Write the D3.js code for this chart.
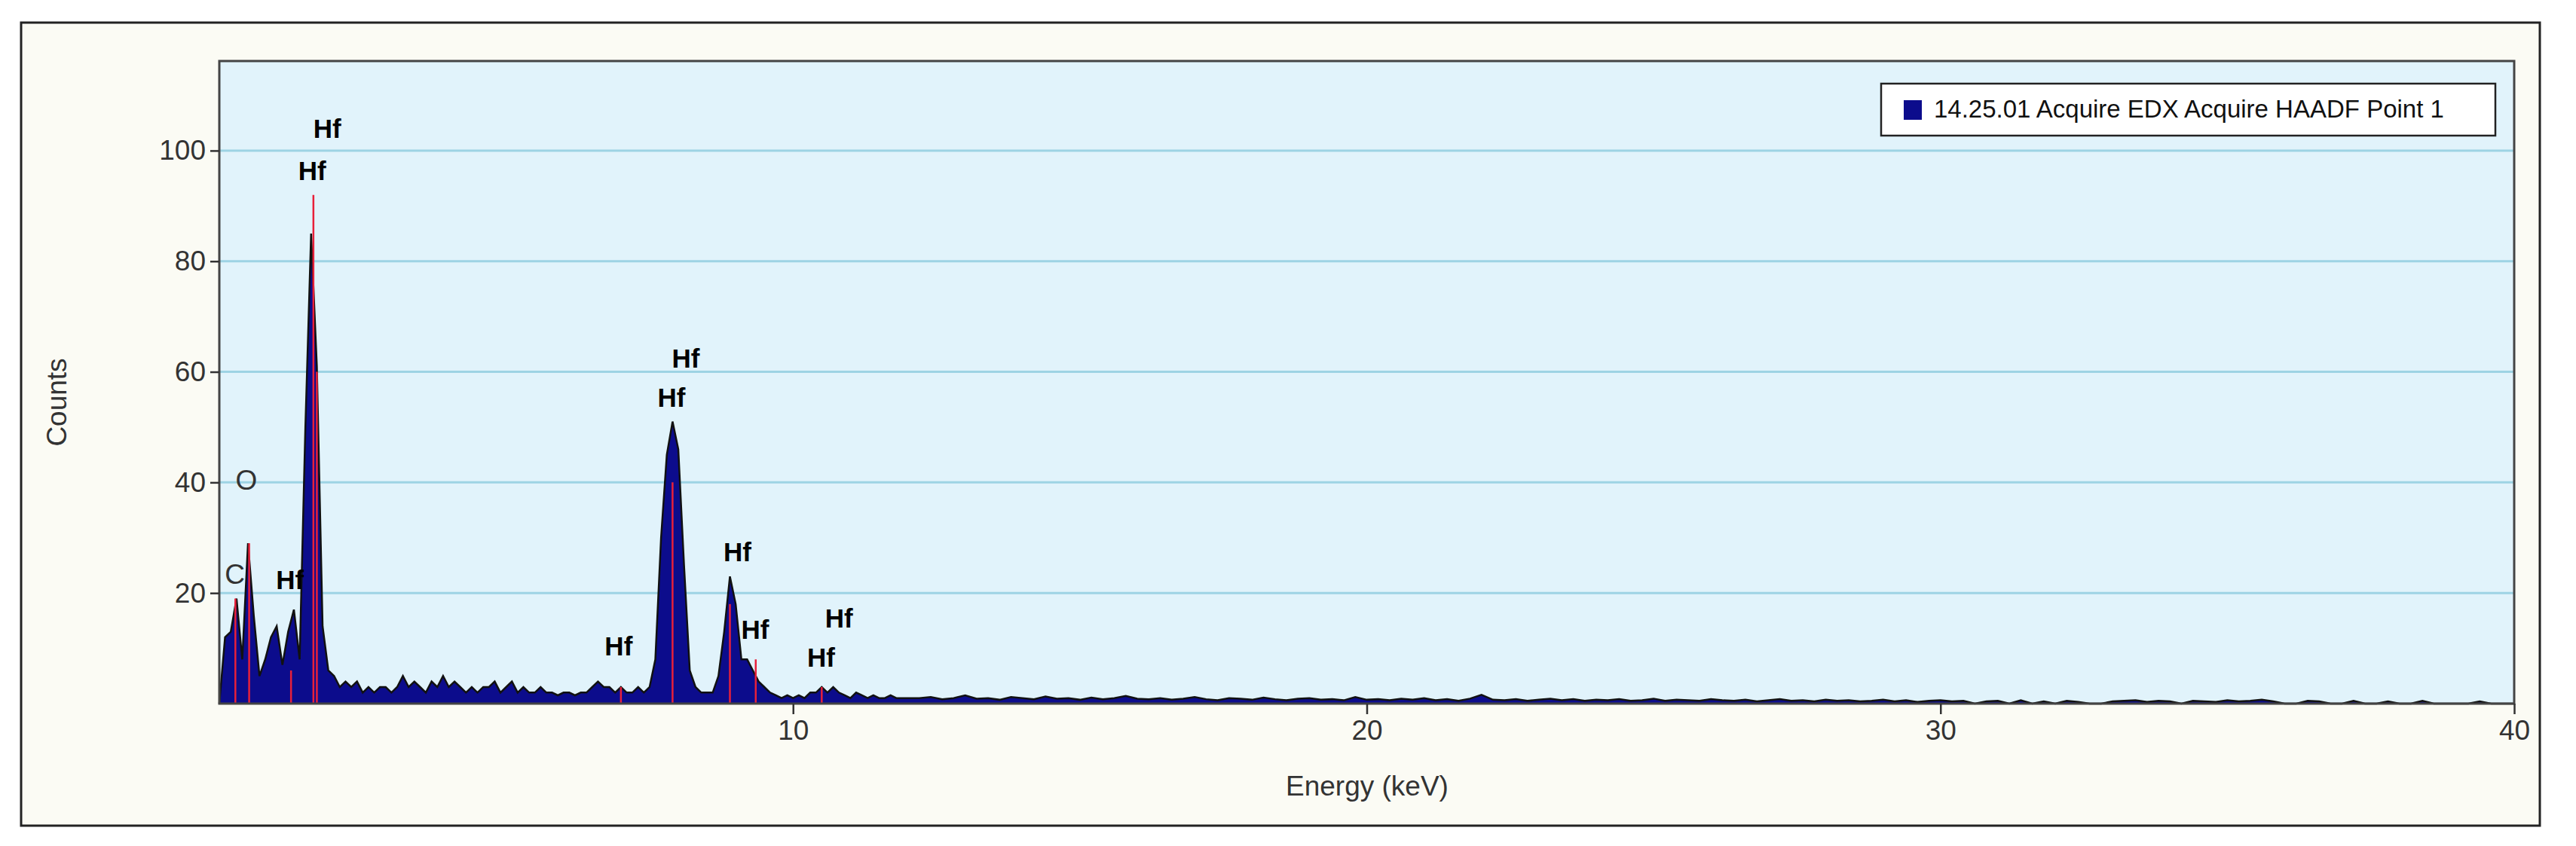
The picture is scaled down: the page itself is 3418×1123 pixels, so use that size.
<!DOCTYPE html>
<html><head><meta charset="utf-8">
<script src="https://cdn.jsdelivr.net/npm/d3@7/dist/d3.min.js"></script>
<style>body{margin:0;background:#fff}svg{display:block}</style></head>
<body><svg id="c" width="3418" height="1123"></svg>
<script>
// Low-energy channels, 0.0 to 12.0 keV in 0.1 keV steps
const lowStart = 0, lowStep = 0.1;
const lowCounts = [0,12,13,19,8,29,16,5,8,12,14,7,13,17,8,50,85,61,14,6,
5,3,4,3,4,2,3,2,3,3,2,3,5,3,4,3,2,4,3,5,
3,4,3,2,3,2,3,3,4,2,3,4,2,3,2,2,3,2,2,1.5,
2,2,1.5,2,2,3,4,3,3,2,3,2,2,3,2,3,8,30,45,51,
46,25,6,3,2,2,2,5,13,23,18,8,8,6,4,3,2,1.5,1,1.5,
1,1.5,1,2,2,3,2,3,2,1.5,1,2,1.5,1,1.5,1,1,1.5,1,1,1];
// High-energy channels, 12.2 to 40.0 keV in 0.2 keV steps
const highStart = 12.2, highStep = 0.2;
const highCounts = [1,1.2,0.8,1,1.5,0.9,1,0.7,1.2,1,0.8,1.3,0.9,1,0.7,1.1,0.8,1,1.4,0.9,
0.8,1,0.7,0.9,1.2,0.8,0.6,1,0.9,0.7,1.1,0.8,0.6,0.9,1,0.7,0.8,0.6,1.2,0.7,
0.8,0.6,0.9,0.7,1,0.6,0.8,0.5,0.9,1.6,0.7,0.6,0.8,0.5,0.7,0.9,0.6,0.8,0.5,0.7,
0.6,0.8,0.5,0.6,0.9,0.5,0.7,0.6,0.5,0.8,0.6,0.5,0.7,0.4,0.6,0.8,0.5,0.6,0.4,0.7,
0.5,0.6,0.4,0.5,0.7,0.4,0.6,0.3,0.5,0.6,0.4,0.5,0,0.4,0.5,0,0.6,0,0.4,0,
0.5,0.3,0,0,0.4,0.5,0.6,0.3,0.5,0.4,0,0.5,0.4,0.3,0.6,0.4,0.5,0.7,0.4,0,
0,0.5,0.4,0,0,0.5,0,0,0.4,0,0,0.5,0,0,0,0,0.4,0,0,0];
// Element marker lines [energy keV, height counts]
const markerE = [0.28,0.52,1.64,1.70,1.25,7.90,8.90,9.35,10.5,7.0];
const markerH = [19,29,92,60,6,40,18,8,3,3];
// Peak labels
const labelText = ["C","O","Hf","Hf","Hf","Hf","Hf","Hf","Hf","Hf","Hf","Hf"];
const labelE = [0.27,0.47,1.88,1.62,1.23,6.96,8.13,7.88,9.03,9.34,10.8,10.49];
const labelY = [23,40,103.5,96,22,10,62,55,27,13,15,8];
const labelBold = [false,false,true,true,true,true,true,true,true,true,true,true];
const xTicks = [10,20,30,40];
const yTicks = [20,40,60,80,100];
const legendText = "14.25.01 Acquire EDX Acquire HAADF Point 1";

const data = [];
lowCounts.forEach((v,i)=>data.push([lowStart+i*lowStep, v]));
highCounts.forEach((v,i)=>data.push([highStart+i*highStep, v]));
data.push([40,0]);

const svg = d3.select("#c");
const L=291,R=3336,T=81,B=934;
svg.append("rect").attr("x",0).attr("y",0).attr("width",3418).attr("height",1123).attr("fill","#ffffff");
svg.append("rect").attr("x",28).attr("y",30).attr("width",3342).attr("height",1066).attr("fill","#fbfbf4").attr("stroke","#222").attr("stroke-width",3);
const x=d3.scaleLinear().domain([0,40]).range([L,R]);
const y=d3.scaleLinear().domain([0,116.2]).range([B,T]);
svg.append("rect").attr("x",L).attr("y",T).attr("width",R-L).attr("height",B-T).attr("fill","#e1f3fb");
svg.append("g").selectAll("line").data(yTicks).join("line")
 .attr("x1",L).attr("x2",R).attr("y1",d=>y(d)).attr("y2",d=>y(d)).attr("stroke","#9dd3e4").attr("stroke-width",3);
const area=d3.area().x(d=>x(d[0])).y0(y(0)).y1(d=>y(d[1])).curve(d3.curveLinear);
const line=d3.line().x(d=>x(d[0])).y(d=>y(d[1])).curve(d3.curveLinear);
svg.append("path").datum(data).attr("d",area).attr("fill","#0c0c8c");
svg.append("path").datum(data).attr("d",line).attr("fill","none").attr("stroke","#111").attr("stroke-width",2.5);
svg.append("g").selectAll("line").data(markerE).join("line")
 .attr("x1",d=>x(d)).attr("x2",d=>x(d)).attr("y1",y(0)).attr("y2",(d,i)=>y(markerH[i])).attr("stroke","#e8203a").attr("stroke-width",2.5);
svg.append("rect").attr("x",L).attr("y",T).attr("width",R-L).attr("height",B-T).attr("fill","none").attr("stroke","#444").attr("stroke-width",3);
const font="'Liberation Sans', Arial, sans-serif";
const ya=svg.append("g").attr("transform",`translate(${L},0)`).call(d3.axisLeft(y).tickValues(yTicks).tickSize(12).tickPadding(6));
const xa=svg.append("g").attr("transform",`translate(0,${B})`).call(d3.axisBottom(x).tickValues(xTicks).tickSize(14).tickPadding(8));
[ya,xa].forEach(a=>{a.select(".domain").remove();a.selectAll("line").attr("stroke","#333").attr("stroke-width",2.5);
 a.selectAll("text").attr("font-family",font).attr("font-size",37).attr("fill","#333");});
svg.append("text").attr("transform","translate(78,534) rotate(-90)").attr("text-anchor","middle").attr("dominant-baseline","middle")
 .attr("font-family",font).attr("font-size",37).attr("fill","#333").text("Counts");
svg.append("text").attr("x",1814).attr("y",1046).attr("text-anchor","middle").attr("dominant-baseline","middle")
 .attr("font-family",font).attr("font-size",37).attr("fill","#333").text("Energy (keV)");
svg.append("g").selectAll("text").data(labelText).join("text")
 .attr("x",(d,i)=>x(labelE[i])).attr("y",(d,i)=>y(labelY[i])).attr("text-anchor","middle").attr("dominant-baseline","middle")
 .attr("font-family",font).attr("font-size",(d,i)=>labelBold[i]?35:37).attr("font-weight",(d,i)=>labelBold[i]?"bold":"normal")
 .attr("fill",(d,i)=>labelBold[i]?"#000":"#333").text(d=>d);
svg.append("rect").attr("x",2496).attr("y",111).attr("width",815).attr("height",69).attr("fill","#fff").attr("stroke","#222").attr("stroke-width",2.5);
svg.append("rect").attr("x",2526).attr("y",133).attr("width",24).attr("height",26).attr("fill","#0c0c8c");
svg.append("text").attr("x",2566).attr("y",147).attr("dominant-baseline","middle").attr("font-family",font).attr("font-size",33)
 .attr("fill","#111").text(legendText);
</script></body></html>
